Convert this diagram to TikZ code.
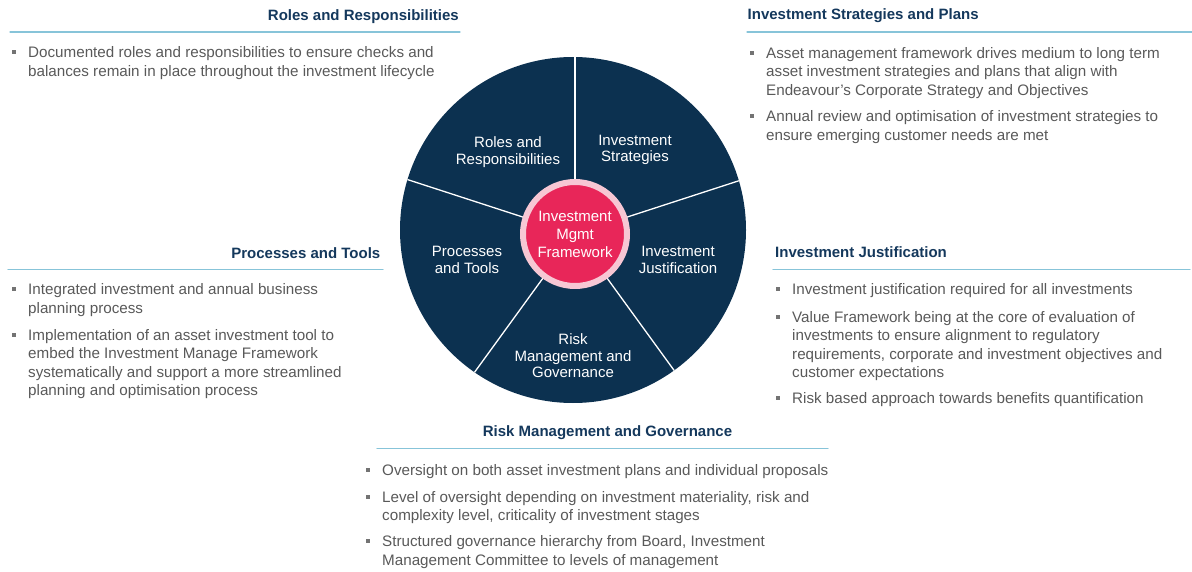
\documentclass[tikz,border=0pt]{standalone}
\usepackage{fontspec}
\setmainfont{Liberation Sans}
\usepackage{tikz}
\definecolor{pienavy}{rgb}{0.047,0.192,0.314}
\definecolor{hdrnavy}{rgb}{0.08,0.22,0.36}
\definecolor{ruleblue}{rgb}{0.53,0.77,0.85}
\definecolor{txtgray}{rgb}{0.35,0.35,0.35}
\definecolor{bulgray}{rgb}{0.45,0.45,0.45}
\definecolor{hubred}{rgb}{0.91,0.15,0.35}
\definecolor{hubpink}{rgb}{0.97,0.78,0.83}

\begin{document}
\begin{tikzpicture}[line cap=round,line join=round,x=1pt,y=-1pt,
    hdr/.style={font=\fontsize{15}{18}\selectfont\bfseries,text=hdrnavy,inner sep=0pt},
    item/.style={font=\fontsize{15.2}{18.4}\selectfont,text=txtgray,align=left,anchor=north west,inner sep=0pt},
    bul/.style={fill=bulgray,minimum size=4pt,inner sep=0pt},
    rule/.style={draw=ruleblue,line width=1.3pt},
    seg/.style={font=\fontsize{15}{16.5}\selectfont,text=white,align=center,inner sep=0pt}]
      \useasboundingbox (0,0) rectangle (1192,572);
      % wheel
      \fill[color=pienavy] (573,230) circle (173pt);
      \begin{scope}
        \clip (573,230) circle (173pt);
        \foreach \a in {90,18,-54,-126,162}
        \draw[color=white,line width=1.3pt] (575,234) ++(\a:50pt) -- ++(\a:200pt);
      \end{scope}
      \node[circle,fill=hubred,draw=hubpink,line width=6pt,minimum size=104pt,inner sep=0pt,
        align=center,text=white,font=\fontsize{15}{18}\selectfont] (hub) at (575,234) {Investment\\Mgmt\\Framework};
      \node[seg] (roles) at (508,152) {Roles and\\Responsibilities};
      \node[seg] (strat) at (635,150) {Investment\\Strategies};
      \node[seg] (procs) at (467,260) {Processes\\and Tools};
      \node[seg] (justif) at (678,260) {Investment\\Justification};
      \node[seg] (risk) at (573,356) {Risk\\Management and\\Governance};
      % roles and responsibilities
      \node[hdr,anchor=base east] (hroles) at (459,20.5) {Roles and Responsibilities};
      \draw[rule] (10,32) -- (460,32);
      \node[item] (roles1) at (28,46.5) {Documented roles and responsibilities to ensure checks and\\balances remain in place throughout the investment lifecycle};
      % strategies and plans
      \node[hdr,anchor=base west] (hstrat) at (747.5,20) {Investment Strategies and Plans};
      \draw[rule] (747,32) -- (1192,32);
      \node[item] (strat1) at (766,47.3) {Asset management framework drives medium to long term\\asset investment strategies and plans that align with\\Endeavour's Corporate Strategy and Objectives};
      \node[item] (strat2) at (766,110.7) {Annual review and optimisation of investment strategies to\\ensure emerging customer needs are met};
      % processes and tools
      \node[hdr,anchor=base east] (hprocs) at (380.5,258.3) {Processes and Tools};
      \draw[rule] (8,269.5) -- (383,269.5);
      \node[item] (procs1) at (28,283.5) {Integrated investment and annual business\\planning process};
      \node[item] (procs2) at (28,329) {Implementation of an asset investment tool to\\embed the Investment Manage Framework\\systematically and support a more streamlined\\planning and optimisation process};
      % justification
      \node[hdr,anchor=base west] (hjustif) at (775,257.7) {Investment Justification};
      \draw[rule] (773,269.5) -- (1190,269.5);
      \node[item] (justif1) at (792,283.5) {Investment justification required for all investments};
      \node[item] (justif2) at (792,311.3) {Value Framework being at the core of evaluation of\\investments to ensure alignment to regulatory\\requirements, corporate and investment objectives and\\customer expectations};
      \node[item] (justif3) at (792,392.5) {Risk based approach towards benefits quantification};
      % risk management
      \node[hdr,anchor=base] (hrisk) at (607.5,436.7) {Risk Management and Governance};
      \draw[rule] (377,448.5) -- (828,448.5);
      \node[item] (risk1) at (382,464) {Oversight on both asset investment plans and individual proposals};
      \node[item] (risk2) at (382,491.3) {Level of oversight depending on investment materiality, risk and\\complexity level, criticality of investment stages};
      \node[item] (risk3) at (382,535.7) {Structured governance hierarchy from Board, Investment\\Management Committee to levels of management};
      % bullets
      \foreach \n in {roles1,strat1,strat2,procs1,procs2,justif1,justif2,justif3,risk1,risk2,risk3}
      \node[bul] at ([xshift=-14.5pt,yshift=-5.5pt]\n.north west) {};
\end{tikzpicture}
\end{document}
